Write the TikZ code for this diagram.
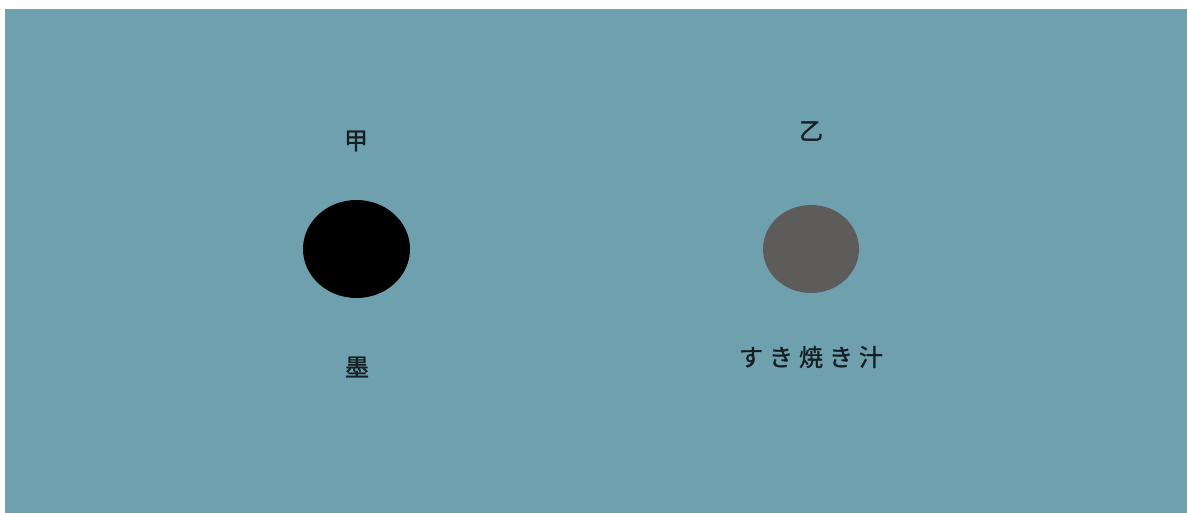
\documentclass[tikz,border=0pt]{standalone}
\usepackage{fontspec}
\newfontfamily\cjk[FakeBold=1.2]{Noto Sans CJK JP}
\definecolor{bgteal}{RGB}{111,160,173}
\definecolor{sukigray}{RGB}{94,91,91}
\definecolor{inktext}{RGB}{20,30,35}
\begin{document}
\begin{tikzpicture}[x=1pt,y=-1pt,
  lbl/.style={font=\cjk\fontsize{24}{27}\selectfont, text=inktext, inner sep=0pt}]
\useasboundingbox (0,0) rectangle (1188,513);
\fill[white] (0,0) rectangle (1188,513);
\fill[bgteal] (5,9) rectangle (1187,513);
\node[lbl] (ka) at (356,141) {甲};
\node[lbl] (otsu) at (811,131) {乙};
\fill[black] (356.5,249) ellipse [x radius=53.5, y radius=49];
\fill[sukigray] (811,249) ellipse [x radius=48, y radius=44];
\node[lbl] (sumi) at (357,367) {墨};
\node[lbl] (suki) at (811,357) {す\kern6pt き\kern6pt 焼\kern6pt き\kern6pt 汁};
\end{tikzpicture}
\end{document}
